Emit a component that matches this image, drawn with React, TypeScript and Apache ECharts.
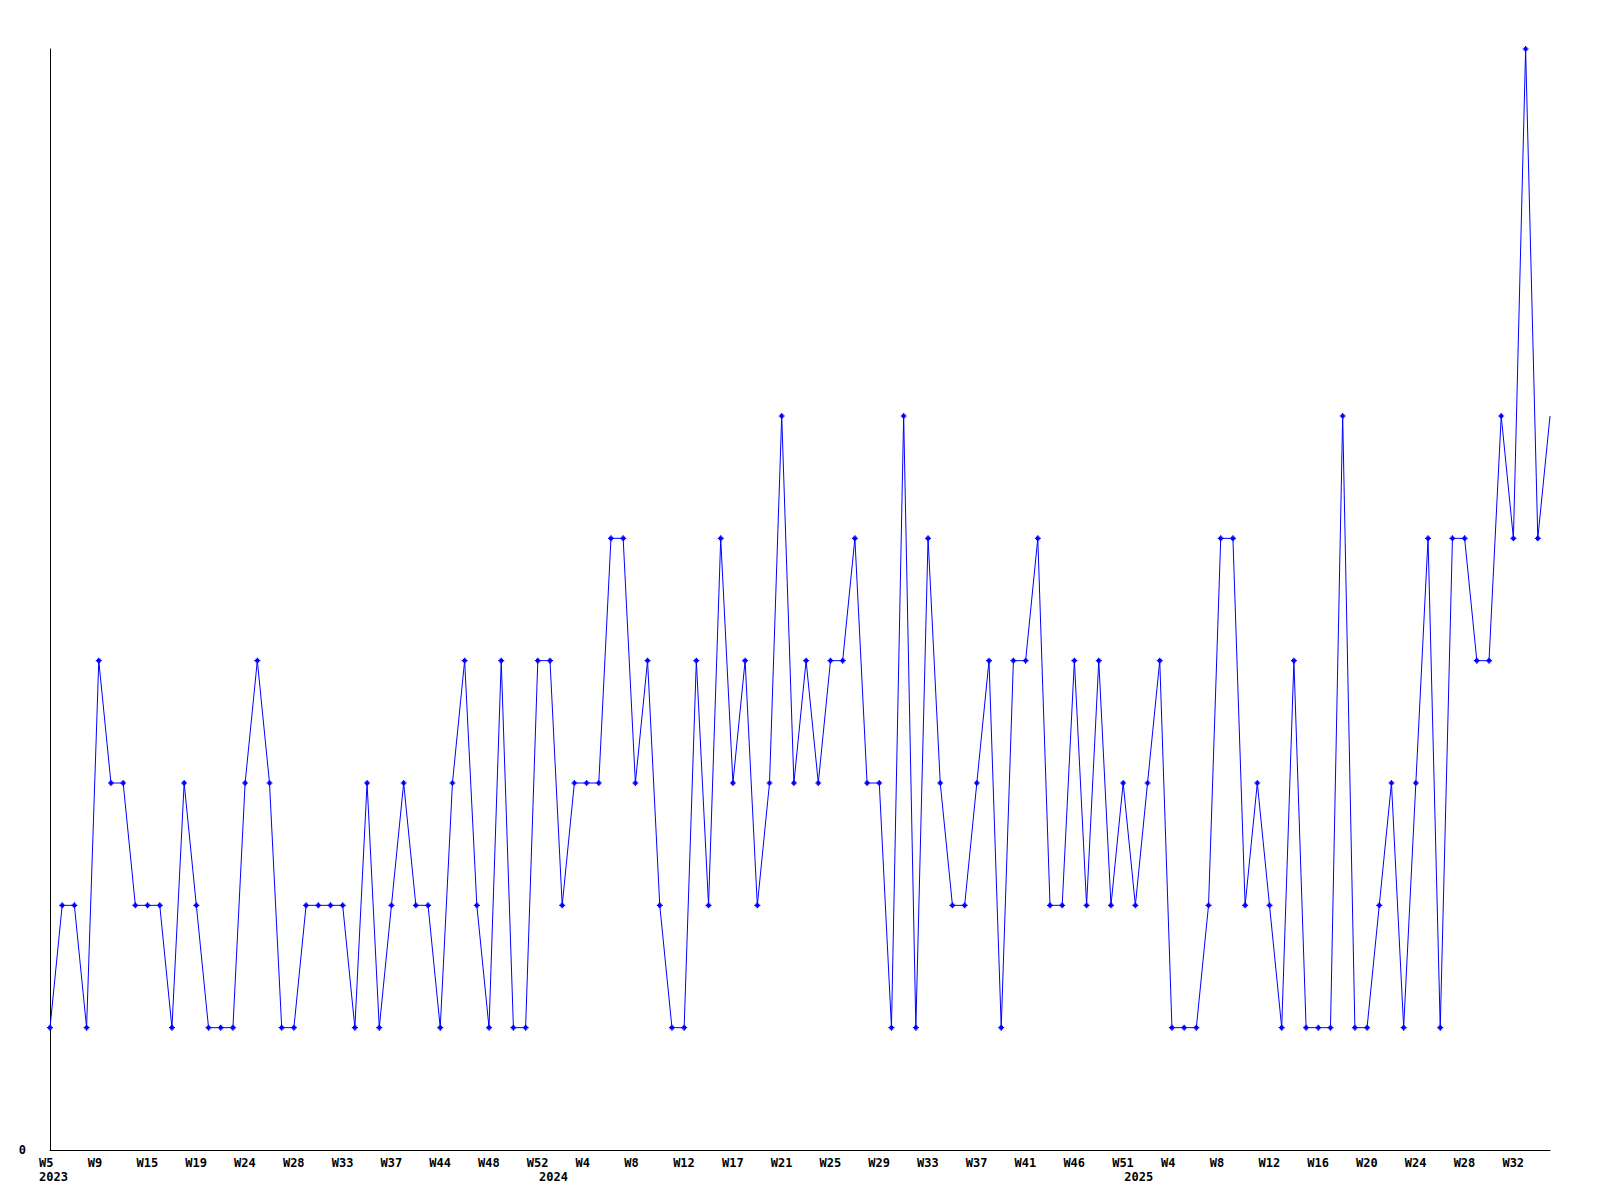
import React, { useEffect, useRef } from "react";
import * as echarts from "echarts";

const weeks2023 = ["W5","W6","W7","W8","W9","W10","W12","W13","W15","W16","W17","W18","W19","W20","W21","W23","W24","W25","W26","W27","W28","W29","W30","W32","W33","W34","W35","W36","W37","W38","W40","W42","W44","W45","W46","W47","W48","W49","W50","W51","W52"];
const values2023 = [1,2,2,1,4,3,3,2,2,2,1,3,2,1,1,1,3,4,3,1,1,2,2,2,2,1,3,1,2,3,2,2,1,3,4,2,1,4,1,1,4];

const weeks2024 = ["W1","W2","W3","W4","W5","W6","W7","W8","W9","W10","W11","W12","W13","W14","W16","W17","W18","W19","W20","W21","W22","W23","W24","W25","W26","W27","W28","W29","W30","W31","W32","W33","W34","W35","W36","W37","W38","W39","W40","W41","W42","W44","W45","W46","W47","W48","W50","W51"];
const values2024 = [4,2,3,3,3,5,5,3,4,2,1,1,4,2,5,3,4,2,3,6,3,4,3,4,4,5,3,3,1,6,1,5,3,2,2,3,4,1,4,4,5,2,2,4,2,4,2,3];

const weeks2025 = ["W1","W2","W3","W4","W5","W6","W7","W8","W9","W10","W11","W12","W13","W14","W15","W16","W17","W18","W19","W20","W21","W22","W23","W24","W25","W26","W27","W28","W29","W30","W31","W32","W33","W34","W35"];
const values2025 = [2,3,4,1,1,1,2,5,5,2,3,2,1,4,1,1,1,6,1,1,2,3,1,3,5,1,5,5,4,4,6,5,9,5,6];

const years = ["2023", "2024", "2025"];

export default function App() {
  const ref = useRef<HTMLDivElement>(null);
  useEffect(() => {
    if (!ref.current) return;
    const chart = echarts.init(ref.current, null, { renderer: "svg" });
    const weekGroups = [weeks2023, weeks2024, weeks2025];
    const valueGroups = [values2023, values2024, values2025];
    const categories: string[] = [];
    const yearOf: string[] = [];
    const yearStart = new Set<number>();
    const values: number[] = [];
    weekGroups.forEach((ws, gi) => {
      yearStart.add(categories.length);
      ws.forEach((w, i) => {
        categories.push(w);
        yearOf.push(years[gi]);
        values.push(valueGroups[gi][i]);
      });
    });
    const data = values.map((v, i) =>
      i === values.length - 1 ? { value: v, symbol: "none" } : { value: v }
    );
    const font = {
      fontFamily: "DejaVu Sans Mono",
      fontWeight: "bold" as const,
      fontSize: 12,
      color: "#000",
    };
    const rich = { a: { ...font, width: 22, align: "left" as const } };
    chart.setOption({
      animation: false,
      backgroundColor: "#fff",
      grid: { left: 50, right: 50, top: 49, bottom: 50, containLabel: false },
      xAxis: [
        {
          type: "category",
          data: categories,
          boundaryGap: false,
          position: "bottom",
          axisLine: { show: true, lineStyle: { color: "#000", width: 1 } },
          axisTick: { show: false },
          splitLine: { show: false },
          axisLabel: {
            interval: 3,
            margin: 7,
            ...font,
            formatter: (v: string) => `{a|${v}}`,
            rich,
          },
        },
        {
          type: "category",
          data: categories.map((c, i) => yearOf[i]),
          boundaryGap: false,
          position: "bottom",
          axisLine: { show: false },
          axisTick: { show: false },
          splitLine: { show: false },
          axisLabel: {
            interval: (i: number) => yearStart.has(i),
            margin: 21,
            ...font,
            formatter: (v: string) => `{a|${v}}`,
            rich,
          },
        },
      ],
      yAxis: {
        type: "value",
        min: 0,
        max: 9,
        interval: 9,
        axisLine: { show: true, lineStyle: { color: "#000", width: 1 } },
        axisTick: { show: false },
        splitLine: { show: false },
        axisLabel: {
          ...font,
          margin: 24,
          formatter: (v: number) => (v === 0 ? "0" : ""),
        },
      },
      series: [
        {
          type: "line",
          data,
          xAxisIndex: 0,
          showAllSymbol: true,
          symbol: "path://M2,0H3V1H4V2H5V3H4V4H3V5H2V4H1V3H0V2H1V1H2Z",
          symbolSize: 6,
          itemStyle: { color: "#0000ff" },
          lineStyle: { color: "#0000ff", width: 1 },
          clip: false,
        },
      ],
    });
    return () => chart.dispose();
  }, []);
  return <div ref={ref} style={{ width: 1600, height: 1200, margin: -8 }} />;
}
